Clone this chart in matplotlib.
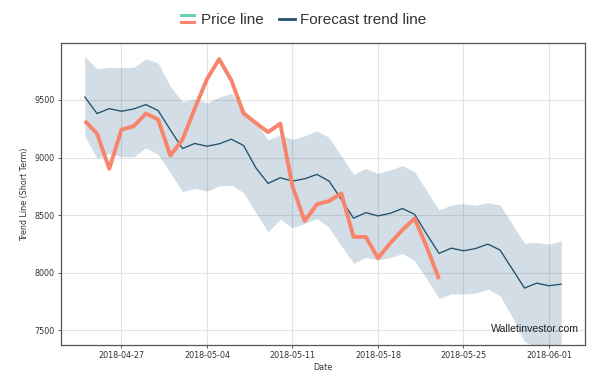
import numpy as np
import pandas as pd
import matplotlib
matplotlib.use("Agg")
import matplotlib.pyplot as plt
from matplotlib.legend_handler import HandlerBase
from matplotlib.patches import Rectangle
from matplotlib.lines import Line2D

# ---------------- data ----------------
start_date = "2018-04-24"
forecast = [9526, 9382, 9425, 9402, 9422, 9460, 9408, 9240, 9078, 9122,
            9098, 9119, 9159, 9104, 8911, 8775, 8824, 8795, 8815, 8853,
            8795, 8636, 8472, 8521, 8492, 8515, 8556, 8506, 8333, 8166,
            8212, 8189, 8209, 8247, 8195, 8030, 7865, 7908, 7885, 7899]
upper = [9878, 9772, 9783, 9783, 9783, 9858, 9821, 9618, 9483, 9509,
         9474, 9526, 9555, 9420, 9301, 9156, 9194, 9159, 9188, 9231,
         9174, 9012, 8853, 8905, 8862, 8891, 8931, 8876, 8709, 8544,
         8587, 8599, 8584, 8607, 8587, 8420, 8255, 8261, 8247, 8275]
lower = [9185, 8992, 9035, 9006, 9006, 9084, 9026, 8867, 8703, 8732,
         8708, 8752, 8760, 8694, 8521, 8353, 8463, 8388, 8428, 8469,
         8391, 8232, 8079, 8131, 8110, 8131, 8165, 8102, 7943, 7775,
         7813, 7813, 7821, 7856, 7798, 7611, 7400, 7340, 7320, 7300]
price = [9318, 9208, 8902, 9243, 9272, 9382, 9330, 9017, 9156, 9425,
         9682, 9855, 9670, 9382, 9301, 9220, 9295, 8752, 8448, 8593,
         8622, 8688, 8310, 8310, 8125, 8255, 8370, 8471, 8220, 7943]
xtick_labels = ["2018-04-27", "2018-05-04", "2018-05-11",
                "2018-05-18", "2018-05-25", "2018-06-01"]
ytick_values = [7500, 8000, 8500, 9000, 9500]
legend_labels = ["Price line", "Forecast trend line"]
ylabel = "Trend Line (Short Term)"
xlabel = "Date"
watermark = "Walletinvestor.com"

dates_f = pd.date_range(start_date, periods=len(forecast), freq="D")
dates_p = pd.date_range(start_date, periods=len(price), freq="D")

# ---------------- style ----------------
C_BAND = "#1f567d"
C_FORE = "#22506f"
C_PRICE = "#f7846b"
C_TEAL = "#66d3b2"
C_TEXT = "#333333"

fig = plt.figure(figsize=(6.06, 3.81), dpi=100)
ax = fig.add_axes([0.1007, 0.0945, 0.8646, 0.7925])

ax.fill_between(dates_f, lower, upper, color=C_BAND, alpha=0.2, linewidth=0, zorder=2)
ax.plot(dates_f, forecast, color=C_FORE, lw=0.95, zorder=3)
ax.plot(dates_p, price, color=C_PRICE, lw=2.8, zorder=4, solid_capstyle="butt")

ax.set_ylim(7370, 9995)
ax.set_yticks(ytick_values)
ax.set_xticks(pd.to_datetime(xtick_labels))
ax.set_xticklabels(xtick_labels)

ax.grid(True, color="#e3e3e3", lw=0.8, zorder=0)
ax.set_axisbelow(True)
for s in ax.spines.values():
    s.set_color("#555555")
    s.set_linewidth(0.9)
ax.tick_params(axis="both", labelsize=5.8, colors="#555555", labelcolor=C_TEXT,
               length=2.5, width=0.7, pad=2)
ax.set_ylabel(ylabel, fontsize=5.8, color=C_TEXT, labelpad=4)
ax.set_xlabel(xlabel, fontsize=5.8, color=C_TEXT, labelpad=2)

ax.text(0.989, 0.035, watermark, transform=ax.transAxes, ha="right", va="bottom",
        fontsize=7.6, family="Liberation Sans", color="#222222", zorder=6)


class StripeHandler(HandlerBase):
    def __init__(self, c_top, c_bot):
        super().__init__()
        self.c_top = c_top
        self.c_bot = c_bot

    def create_artists(self, legend, orig_handle, xdescent, ydescent,
                       width, height, fontsize, trans):
        sh = height * 0.24
        r1 = Rectangle((-xdescent, -ydescent + height * 0.66), width, sh,
                       facecolor=self.c_top, edgecolor="none", transform=trans)
        r2 = Rectangle((-xdescent, -ydescent + height * 0.08), width, sh,
                       facecolor=self.c_bot, edgecolor="none", transform=trans)
        return [r1, r2]


price_proxy = Line2D([], [], color=C_PRICE)
fore_proxy = Line2D([], [], color=C_FORE, lw=2.0)
leg = fig.legend([price_proxy, fore_proxy], legend_labels,
                 loc="center", bbox_to_anchor=(0.5, 0.947), ncol=2,
                 frameon=False, handlelength=1.05, handletextpad=0.33,
                 columnspacing=1.0, handleheight=0.8,
                 prop={"family": "Liberation Sans", "size": 11},
                 handler_map={price_proxy: StripeHandler(C_TEAL, C_PRICE)})
for t in leg.get_texts():
    t.set_color(C_TEXT)

fig.savefig("out.png", dpi=100)
